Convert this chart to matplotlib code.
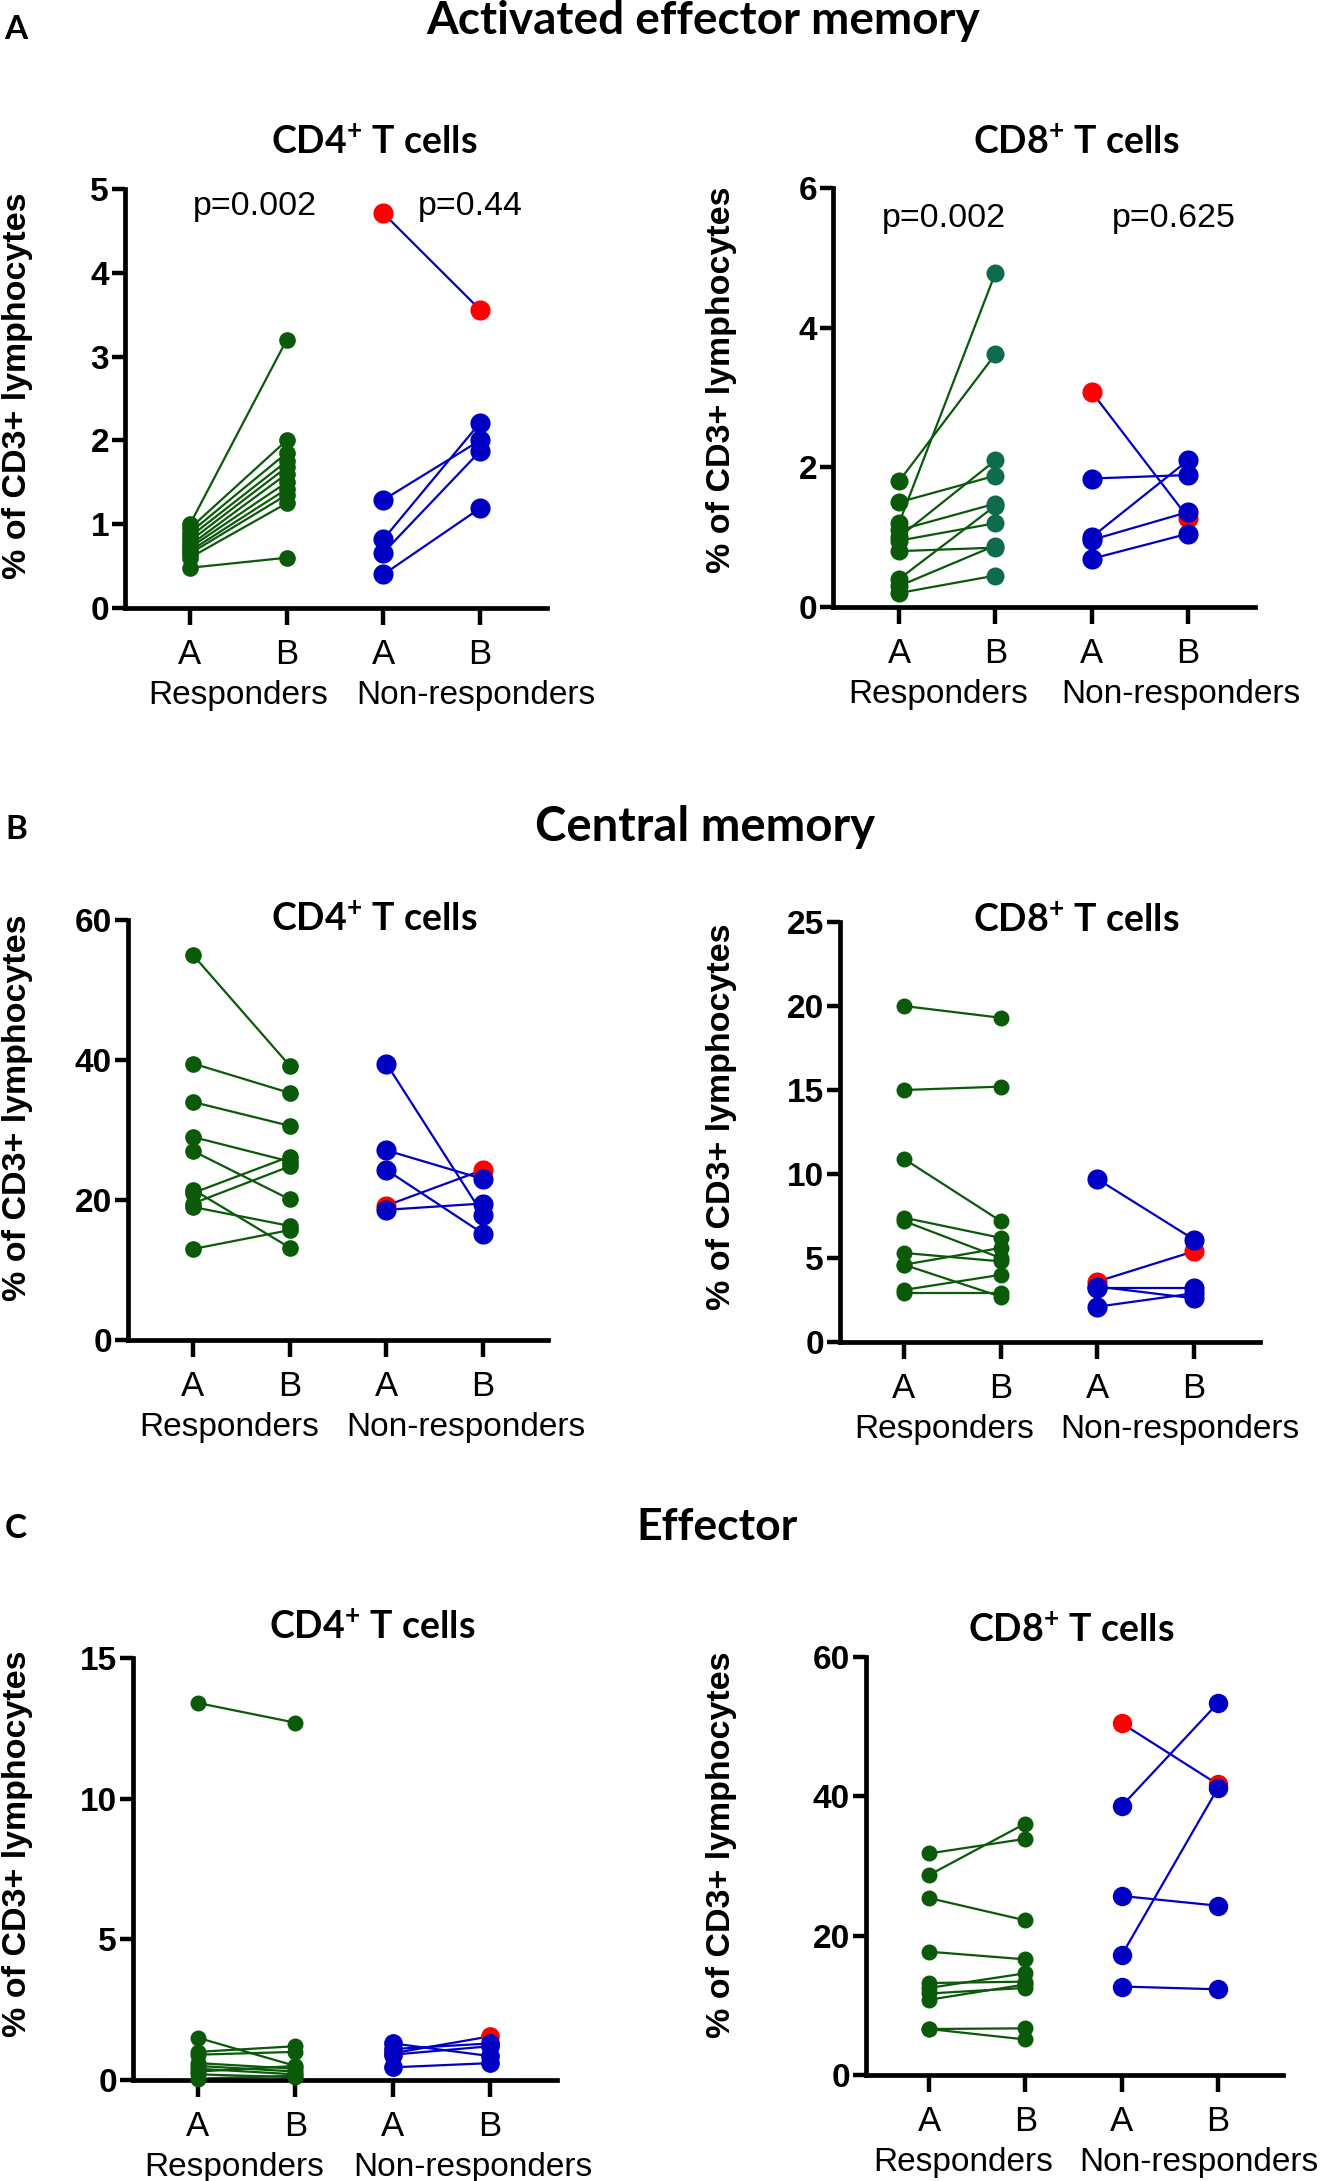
import matplotlib
matplotlib.use('Agg')
import matplotlib.pyplot as plt
from matplotlib.font_manager import FontProperties

plt.rcParams['font.family'] = ['Liberation Sans', 'DejaVu Sans']
plt.rcParams['mathtext.fontset'] = 'custom'
plt.rcParams['mathtext.rm'] = 'Lato:bold'
plt.rcParams['mathtext.default'] = 'rm'

# ---- data ----
# A: activated effector memory
aem_cd4_resp_a = [1.00, 0.95, 0.90, 0.85, 0.80, 0.75, 0.72, 0.68, 0.65, 0.60, 0.48]
aem_cd4_resp_b = [3.20, 2.00, 1.85, 1.75, 1.68, 1.60, 1.50, 1.42, 1.35, 1.25, 0.60]
aem_cd4_non_a = [1.29, 0.82, 0.66, 0.40]
aem_cd4_non_b = [2.00, 2.21, 1.87, 1.19]
aem_cd4_red = [4.71, 3.56]

aem_cd8_resp_a = [1.80, 1.20, 1.50, 1.00, 1.10, 0.95, 0.80, 0.40, 0.30, 0.20]
aem_cd8_resp_b = [3.62, 4.78, 1.88, 2.10, 1.48, 1.20, 0.85, 1.45, 0.88, 0.45]
aem_cd8_non_a = [1.84, 1.00, 0.96, 0.69]
aem_cd8_non_b = [1.89, 2.10, 1.36, 1.05]
aem_cd8_red = [3.08, 1.28]

# B: central memory
cm_cd4_resp_a = [55.0, 39.5, 34.0, 29.0, 27.0, 21.5, 21.0, 19.5, 19.0, 13.0]
cm_cd4_resp_b = [39.2, 35.3, 30.6, 25.5, 20.1, 13.2, 26.2, 24.8, 16.3, 15.7]
cm_cd4_non_a = [39.5, 27.1, 24.3, 18.6]
cm_cd4_non_b = [17.9, 23.0, 15.2, 19.5]
cm_cd4_red = [19.2, 24.3]

cm_cd8_resp_a = [20.0, 15.0, 10.9, 7.4, 7.2, 5.3, 4.6, 4.6, 3.1, 2.9]
cm_cd8_resp_b = [19.3, 15.2, 7.2, 6.2, 5.0, 4.8, 5.6, 2.7, 4.0, 2.9]
cm_cd8_non_a = [9.7, 3.3, 3.2, 2.1]
cm_cd8_non_b = [6.1, 2.6, 3.2, 2.9]
cm_cd8_red = [3.6, 5.4]

# C: effector
eff_cd4_resp_a = [13.4, 1.5, 1.0, 0.9, 0.6, 0.5, 0.4, 0.3, 0.2, 0.05]
eff_cd4_resp_b = [12.7, 0.5, 1.2, 1.0, 0.4, 0.3, 0.2, 0.5, 0.1, 0.15]
eff_cd4_non_a = [1.3, 1.1, 0.9, 0.45]
eff_cd4_non_b = [0.85, 1.3, 1.2, 0.6]
eff_cd4_red = [0.95, 1.55]

eff_cd8_resp_a = [31.8, 28.7, 25.4, 17.7, 13.2, 12.5, 11.7, 10.8, 6.6, 6.6]
eff_cd8_resp_b = [33.9, 36.1, 22.2, 16.6, 13.4, 14.6, 12.5, 13.0, 6.7, 5.1]
eff_cd8_non_a = [38.6, 25.7, 17.2, 12.7]
eff_cd8_non_b = [53.4, 24.3, 41.2, 12.3]
eff_cd8_red = [50.5, 41.7]

yticks_aem_cd4 = [0, 1, 2, 3, 4, 5]
yticks_aem_cd8 = [0, 2, 4, 6]
yticks_cm_cd4 = [0, 20, 40, 60]
yticks_cm_cd8 = [0, 5, 10, 15, 20, 25]
yticks_eff_cd4 = [0, 5, 10, 15]
yticks_eff_cd8 = [0, 20, 40, 60]

cat_labels = ['A', 'B', 'A', 'B']

GREEN = '#0a5a0a'
TEAL = '#0e6b4c'
BLUE = '#0000c4'
RED = '#ff0000'

W, H = 1325, 2181
fig = plt.figure(figsize=(W / 100, H / 100), dpi=100)

tick_font = FontProperties(family='Liberation Sans', weight='bold', size=24)
label_font = FontProperties(family='Liberation Sans', weight='bold', size=24.5)
plain_font = FontProperties(family='Liberation Sans', weight='normal', size=24)
cat_font = FontProperties(family='Liberation Sans', weight='normal', size=25)


def fx(px):
    return px / W


def fy(py):
    return 1 - py / H


def panel(box, tpx, yticks, ra, rb, na, nb, red, resp_x, non_x,
          green_b=GREEN, gs=12.0, bs=14.5):
    spine, end, y0, ytop = box
    s = (tpx[3] - tpx[0]) / 3
    ax = fig.add_axes([fx(spine), fy(y0), (end - spine) / W, (y0 - ytop) / H])
    ax.set_xlim(1 - (tpx[0] - spine) / s, 4 + (end - tpx[3]) / s)
    ax.set_ylim(0, yticks[-1])

    for a, b in zip(ra, rb):
        ax.plot([1, 2], [a, b], color=GREEN, lw=1.6, zorder=2, clip_on=False)
    for a, b in zip(na, nb):
        ax.plot([3, 4], [a, b], color=BLUE, lw=1.6, zorder=2, clip_on=False)
    ax.plot([3, 4], red, color=BLUE, lw=1.6, zorder=2, clip_on=False)

    ax.plot([3, 4], red, 'o', ls='none', ms=bs, color=RED, mew=0, zorder=3, clip_on=False)
    ax.plot([1] * len(ra), ra, 'o', ms=gs, color=GREEN, mew=0, zorder=4, clip_on=False)
    ax.plot([2] * len(rb), rb, 'o', ms=gs, color=green_b, mew=0, zorder=4, clip_on=False)
    ax.plot([3] * len(na), na, 'o', ms=bs, color=BLUE, mew=0, zorder=4, clip_on=False)
    ax.plot([4] * len(nb), nb, 'o', ms=bs, color=BLUE, mew=0, zorder=4, clip_on=False)

    for side in ['top', 'right']:
        ax.spines[side].set_visible(False)
    for side in ['left', 'bottom']:
        ax.spines[side].set_linewidth(3.4)
    ax.set_yticks(yticks)
    ax.set_yticklabels([str(v) for v in yticks])
    ax.set_xticks([1, 2, 3, 4])
    ax.set_xticklabels([])
    ax.tick_params(axis='y', length=9.5, width=3.2, pad=2)
    ax.tick_params(axis='x', length=12, width=3.2)
    for lab in ax.get_yticklabels():
        lab.set_fontproperties(tick_font)

    for x, lab in zip([1, 2, 3, 4], cat_labels):
        ax.annotate(lab, xy=(x, 0), xycoords=('data', 'axes fraction'),
                    xytext=(0, -56 * 0.72), textcoords='offset points',
                    ha='center', va='baseline', fontproperties=cat_font)
    ax.annotate('Responders', xy=(resp_x, 0), xycoords=('data', 'axes fraction'),
                xytext=(0, -96 * 0.72), textcoords='offset points',
                ha='center', va='baseline', fontproperties=plain_font)
    ax.annotate('Non-responders', xy=(non_x, 0), xycoords=('data', 'axes fraction'),
                xytext=(0, -96 * 0.72), textcoords='offset points',
                ha='center', va='baseline', fontproperties=plain_font)
    return ax


def ylabel(x, y):
    fig.text(fx(x), fy(y), '% of CD3+ lymphocytes', rotation=90,
             fontproperties=label_font, ha='center', va='center')


def heading(x, y, s, size):
    fig.text(fx(x), fy(y), s, fontsize=size, fontweight='bold', family='Lato',
             ha='center', va='baseline')


def pval(ax, x, y, s):
    ax.text(x, y, s, ha='center', va='baseline',
            fontproperties=FontProperties(family='Liberation Sans', size=24.5))


# ---- section A ----
fig.text(fx(4), fy(39), 'A', fontsize=24, fontweight='bold', family='Lato', va='baseline')
heading(703, 34, 'Activated effector memory', 33)
heading(374, 153, r'CD4$^{+}$ T cells', 27)
heading(1076, 153, r'CD8$^{+}$ T cells', 27)

ax1 = panel((125, 547, 608, 189), [190, 287, 383, 480], yticks_aem_cd4,
            aem_cd4_resp_a, aem_cd4_resp_b, aem_cd4_non_a, aem_cd4_non_b, aem_cd4_red,
            1.5, 3.96)
pval(ax1, 1.67, 4.69, 'p=0.002')
pval(ax1, 3.9, 4.69, 'p=0.44')
ylabel(18, 386)

ax2 = panel((833, 1255, 607, 188), [899, 996, 1092, 1188], yticks_aem_cd8,
            aem_cd8_resp_a, aem_cd8_resp_b, aem_cd8_non_a, aem_cd8_non_b, aem_cd8_red,
            1.41, 3.93, green_b=TEAL, gs=13, bs=14.5)
pval(ax2, 1.47, 5.44, 'p=0.002')
pval(ax2, 3.85, 5.44, 'p=0.625')
ylabel(722, 380)

# ---- section B ----
fig.text(fx(5), fy(839), 'B', fontsize=24, fontweight='bold', family='Lato', va='baseline')
heading(705, 841, 'Central memory', 34)
heading(374, 930, r'CD4$^{+}$ T cells', 27)
heading(1076, 931, r'CD8$^{+}$ T cells', 27)

panel((128, 548, 1340, 920), [193, 289, 386, 483], yticks_cm_cd4,
      cm_cd4_resp_a, cm_cd4_resp_b, cm_cd4_non_a, cm_cd4_non_b, cm_cd4_red,
      1.37, 3.82)
ylabel(18, 1108)

panel((840, 1260, 1342, 922), [904, 1001, 1098, 1194], yticks_cm_cd8,
      cm_cd8_resp_a, cm_cd8_resp_b, cm_cd8_non_a, cm_cd8_non_b, cm_cd8_red,
      1.42, 3.85, gs=11.5, bs=14.5)
ylabel(722, 1117)

# ---- section C ----
fig.text(fx(5), fy(1538), 'C', fontsize=24, fontweight='bold', family='Lato', va='baseline')
heading(717, 1540, 'Effector', 32)
heading(372, 1638, r'CD4$^{+}$ T cells', 27)
heading(1071, 1641, r'CD8$^{+}$ T cells', 27)

panel((133, 557, 2080, 1658), [198, 296, 393, 490], yticks_eff_cd4,
      eff_cd4_resp_a, eff_cd4_resp_b, eff_cd4_non_a, eff_cd4_non_b, eff_cd4_red,
      1.37, 3.82, gs=11.5, bs=13.5)
ylabel(18, 1844)

panel((866, 1283, 2075, 1657), [929, 1025, 1122, 1218], yticks_eff_cd8,
      eff_cd8_resp_a, eff_cd8_resp_b, eff_cd8_non_a, eff_cd8_non_b, eff_cd8_red,
      1.35, 3.8, gs=11.5, bs=14)
ylabel(722, 1845)

fig.savefig('out.png', dpi=100)
